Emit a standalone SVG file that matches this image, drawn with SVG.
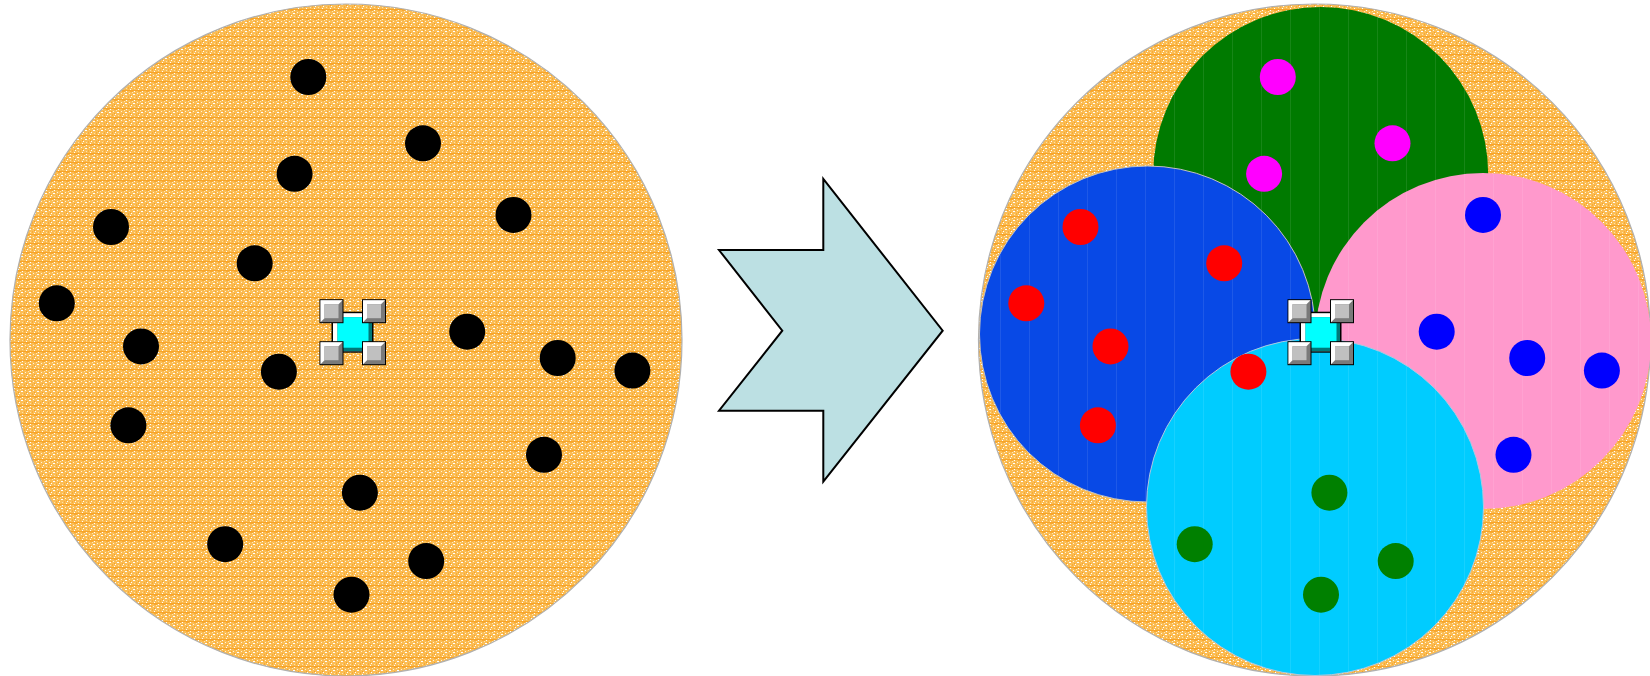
<svg xmlns="http://www.w3.org/2000/svg" width="1650" height="676" viewBox="0 0 1650 676">
<style>
.bg{stroke:#b0b0b0;stroke-width:1.2}
.blk{fill:#000}
.mag{fill:#ff00ff}
.blu{fill:#0000ff}
.red{fill:#ff0000}
.grn{fill:#008000}
.arrow{fill:#bce0e3;stroke:#000;stroke-width:2;stroke-linejoin:miter}
</style>
<defs>
<pattern id="tex" width="8" height="9" patternUnits="userSpaceOnUse">
<rect width="8" height="9" fill="#fbbd55"/>
<rect y="0" width="8" height="1" fill="#f7a428"/>
<rect x="2" y="1" width="3" height="1" fill="#f7a831"/>
<rect x="1" y="3" width="1" height="1" fill="#fff3dc"/>
<rect x="5" y="4" width="2" height="1" fill="#fff"/>
<rect x="3" y="6" width="1" height="1" fill="#fff"/>
<rect x="6" y="7" width="1" height="1" fill="#fde2a8"/>
<rect x="0" y="6" width="1" height="2" fill="#f8ab36"/>
<rect x="4" y="2" width="1" height="1" fill="#fde6b6"/>
<rect x="2" y="8" width="1" height="1" fill="#fff"/>
<rect x="7" y="3" width="1" height="1" fill="#f7a52a"/>
<rect x="6" y="1" width="1" height="1" fill="#fff"/>
<rect x="2" y="5" width="1" height="1" fill="#f6a020"/>
<rect x="5" y="8" width="1" height="1" fill="#f9b445"/>
</pattern>
<pattern id="vl" width="29" height="10" patternUnits="userSpaceOnUse">
<rect x="14" width="1" height="10" fill="#ffffff" opacity="0.09"/>
</pattern>
<g id="sq">
<rect x="0" y="0" width="24" height="24" fill="#000"/>
<rect x="1" y="1" width="22" height="22" fill="#7a7a7a"/>
<polygon points="1,1 23,1 19,5 5,5 5,19 1,23" fill="#ffffff"/>
<rect x="5" y="5" width="14" height="14" fill="#c0c0c0"/>
</g>
<g id="icon">
<rect x="-21" y="-20.5" width="42" height="41" fill="#000"/>
<rect x="-19.5" y="-19" width="39" height="38" fill="#ffffff"/>
<rect x="-15" y="-15" width="34.5" height="34" fill="#007878"/>
<rect x="-15" y="-15" width="31" height="30.5" fill="#00ffff"/>
<use href="#sq" x="-33" y="-33"/>
<use href="#sq" x="9.5" y="-33"/>
<use href="#sq" x="-33" y="9"/>
<use href="#sq" x="9.5" y="9"/>
</g>
</defs>
<g id="left-set">
<circle class="bg" cx="346" cy="340" r="336" fill="url(#tex)"/>
</g>
<g id="left-points">
<circle class="blk" cx="308.3" cy="77" r="18"/>
<circle class="blk" cx="423" cy="143.3" r="18"/>
<circle class="blk" cx="294.6" cy="173.8" r="18"/>
<circle class="blk" cx="513.5" cy="214.9" r="18"/>
<circle class="blk" cx="111" cy="227" r="18"/>
<circle class="blk" cx="254.7" cy="263.3" r="18"/>
<circle class="blk" cx="56.8" cy="303.3" r="18"/>
<circle class="blk" cx="141" cy="346.4" r="18"/>
<circle class="blk" cx="467.2" cy="331.7" r="18"/>
<circle class="blk" cx="278.9" cy="371.7" r="18"/>
<circle class="blk" cx="557.7" cy="358" r="18"/>
<circle class="blk" cx="632.4" cy="370.6" r="18"/>
<circle class="blk" cx="128.4" cy="425.3" r="18"/>
<circle class="blk" cx="544" cy="454.8" r="18"/>
<circle class="blk" cx="359.9" cy="492.7" r="18"/>
<circle class="blk" cx="225.2" cy="544.2" r="18"/>
<circle class="blk" cx="426.2" cy="561.1" r="18"/>
<circle class="blk" cx="351.5" cy="594.7" r="18"/>
</g>
<g id="left-centre"><use href="#icon" x="352.5" y="332.2"/></g>
<g id="connectors">
<polygon class="arrow" points="719,250 823.3,250 823.3,179 942.7,330.7 823.3,481.7 823.3,410.7 719,410.7 782.3,330.7"/>
</g>
<g id="right-set">
<circle class="bg" cx="1314.5" cy="340" r="336" fill="url(#tex)"/>
</g>
<g id="cluster-green">
<circle cx="1320.7" cy="174.5" r="167.5" fill="#007a00"/>
<circle cx="1320.7" cy="174.5" r="167.5" fill="url(#vl)"/>
<circle class="mag" cx="1277.8" cy="77" r="18"/>
<circle class="mag" cx="1392.5" cy="143.3" r="18"/>
<circle class="mag" cx="1264.1" cy="173.8" r="18"/>
</g>
<g id="cluster-blue">
<circle cx="1147.5" cy="334" r="168" fill="#0849e6" stroke="#c0c0c0" stroke-width="1"/>
<circle cx="1147.5" cy="334" r="168" fill="url(#vl)"/>
<circle class="red" cx="1080.5" cy="227" r="18"/>
<circle class="red" cx="1224.2" cy="263.3" r="18"/>
<circle class="red" cx="1026.3" cy="303.3" r="18"/>
<circle class="red" cx="1110.5" cy="346.4" r="18"/>
<circle class="red" cx="1097.9" cy="425.3" r="18"/>
</g>
<g id="cluster-pink">
<circle cx="1483" cy="341" r="168" fill="#ff99cc"/>
<circle cx="1483" cy="341" r="168" fill="url(#vl)"/>
<circle class="blu" cx="1483" cy="214.9" r="18"/>
<circle class="blu" cx="1436.7" cy="331.7" r="18"/>
<circle class="blu" cx="1527.2" cy="358" r="18"/>
<circle class="blu" cx="1601.9" cy="370.6" r="18"/>
<circle class="blu" cx="1513.5" cy="454.8" r="18"/>
</g>
<g id="cluster-cyan">
<circle cx="1315" cy="507" r="168.5" fill="#00ccff" stroke="#b0c8e0" stroke-width="1"/>
<circle cx="1315" cy="507" r="168.5" fill="url(#vl)"/>
<circle class="red" cx="1248.4" cy="371.7" r="18"/>
<circle class="grn" cx="1329.4" cy="492.7" r="18"/>
<circle class="grn" cx="1194.7" cy="544.2" r="18"/>
<circle class="grn" cx="1395.7" cy="561.1" r="18"/>
<circle class="grn" cx="1321" cy="594.7" r="18"/>
</g>
<g id="right-centre"><use href="#icon" x="1320.5" y="332.2"/></g>
</svg>
